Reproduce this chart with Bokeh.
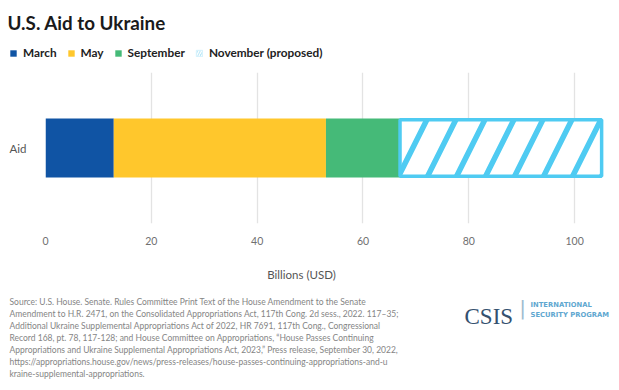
from bokeh.plotting import figure
from bokeh.layouts import column
from bokeh.models import (ColumnDataSource, FactorRange, Range1d, FixedTicker, Label,
                          Legend, LegendItem)
from bokeh.embed import file_html
from bokeh.resources import INLINE

# ---- data ----
categories = ["Aid"]
series = ["March", "May", "September", "November (proposed)"]
march = [12.9]
may = [40.1]
september = [14.0]
november = [38.1]
x_ticks = [0, 20, 40, 60, 80, 100]
colors = ["#1054A4", "#FFC72C", "#45BA78", "#4FCBF2"]

title_text = "U.S. Aid to Ukraine"
axis_title = "Billions (USD)"
source_lines = [
    "Source: U.S. House. Senate. Rules Committee Print Text of the House Amendment to the Senate",
    "Amendment to H.R. 2471, on the Consolidated Appropriations Act, 117th Cong. 2d sess., 2022. 117\u201335;",
    "Additional Ukraine Supplemental Appropriations Act of 2022, HR 7691, 117th Cong., Congressional",
    "Record 168, pt. 78, 117-128; and House Committee on Appropriations, \u201cHouse Passes Continuing",
    "Appropriations and Ukraine Supplemental Appropriations Act, 2023,\u201d Press release, September 30, 2022,",
    "https://appropriations.house.gov/news/press-releases/house-passes-continuing-appropriations-and-u",
    "kraine-supplemental-appropriations.",
]
logo_name = "CSIS"
logo_sub = ["INTERNATIONAL", "SECURITY PROGRAM"]

# cumulative stacking
vals = [march, may, september, november]
lefts, rights = [], []
acc = [0.0] * len(categories)
for v in vals:
    lefts.append(list(acc))
    acc = [a + b for a, b in zip(acc, v)]
    rights.append(list(acc))

FONT = "Lato"
W = 619
H_HEAD, H_CHART, H_FOOT = 72, 176, 142


def bar_style(i):
    if i < 3:
        return dict(fill_color=colors[i], line_color=None)
    return dict(fill_color="white", line_color=colors[i], line_width=3.5,
                hatch_pattern="/", hatch_color=colors[i], hatch_weight=5.5,
                hatch_scale=58)


def legend_style(i):
    if i < 3:
        return dict(fill_color=colors[i], line_color=None)
    return dict(fill_color="#BDE9F9", line_color="#D6F2FC", line_width=1,
                hatch_pattern="/", hatch_color="white", hatch_weight=1.2,
                hatch_scale=5)


def blank(h):
    f = figure(width=W, height=h, output_backend="svg", toolbar_location=None,
               x_range=Range1d(0, W), y_range=Range1d(h, 0),
               x_axis_location=None, y_axis_location=None, min_border=0,
               frame_align=False)
    f.outline_line_color = None
    f.grid.grid_line_color = None
    return f


# ---- header: title + legend ----
head = blank(H_HEAD)
head.add_layout(Label(x=7, y=22, text=title_text, text_font=FONT, text_font_style="bold",
                      text_font_size="18.8px", text_color="#1a1a1a",
                      text_baseline="alphabetic"))
proxies = []
nan = float("nan")
for i, name in enumerate(series):
    r = head.hbar(y=[nan], left=[nan], right=[nan], height=1, **legend_style(i))
    proxies.append(r)
legend = Legend(items=[LegendItem(label=s, renderers=[r]) for s, r in zip(series, proxies)],
                orientation="horizontal", location=(9, H_HEAD - 60),
                glyph_width=8, glyph_height=8, label_standoff=6, spacing=10,
                padding=0, margin=0, border_line_color=None,
                background_fill_alpha=0, label_text_font=FONT,
                label_text_font_style="bold", label_text_font_size="11.8px",
                label_text_color="#222222", label_height=12)
head.add_layout(legend, "center")

# ---- chart ----
p = figure(width=W, height=H_CHART, output_backend="svg", toolbar_location=None,
           y_range=FactorRange(*categories, range_padding=0),
           x_range=Range1d(0, 106.4), frame_align=False,
           min_border_left=45, min_border_right=11, min_border_top=0,
           min_border_bottom=25)
p.outline_line_color = None

for i, name in enumerate(series):
    src = ColumnDataSource(dict(y=categories, left=lefts[i], right=rights[i]))
    h = 0.39 if i < 3 else 0.375
    p.hbar(y="y", left="left", right="right", height=h, source=src, **bar_style(i))

p.xaxis.ticker = FixedTicker(ticks=x_ticks)
p.xaxis.axis_line_color = None
p.xaxis.major_tick_line_color = None
p.xaxis.minor_tick_line_color = None
p.xaxis.major_label_standoff = 7
p.xaxis.major_label_text_font = FONT
p.xaxis.major_label_text_font_size = "10.5px"
p.xaxis.major_label_text_color = "#707070"

p.yaxis.axis_line_color = None
p.yaxis.major_tick_line_color = None
p.yaxis.minor_tick_line_color = None
p.yaxis.major_label_standoff = 13
p.yaxis.major_label_text_font = FONT
p.yaxis.major_label_text_font_size = "11.5px"
p.yaxis.major_label_text_color = "#555555"

p.xgrid.grid_line_color = "#E3E3E3"
p.xgrid.grid_line_width = 1.3
p.ygrid.grid_line_color = None

# ---- footer: axis title, source, logo ----
foot = blank(H_FOOT)
Y0 = H_HEAD + H_CHART  # page y of footer top
foot.add_layout(Label(x=301, y=274 - Y0, text=axis_title, text_font=FONT,
                      text_font_size="11.5px", text_color="#555555",
                      text_align="center", text_baseline="alphabetic"))
for k, line in enumerate(source_lines):
    foot.add_layout(Label(x=9, y=301.5 + 12.0 * k - Y0, text=line, text_font=FONT,
                          text_font_size="8.5px", text_color="#858585",
                          text_baseline="alphabetic"))
foot.add_layout(Label(x=464, y=315.5 - Y0, text=logo_name, text_font="Liberation Serif",
                      text_font_size="23px", text_color="#34516f",
                      text_baseline="alphabetic"))
foot.add_layout(Label(x=522, y=307 - Y0, text="|", text_font="DejaVu Sans",
                      text_font_size="20px", text_color="#9dbcd0",
                      text_align="center", text_baseline="middle"))
for k, t in enumerate(logo_sub):
    foot.add_layout(Label(x=530, y=304.5 + 10 * k - Y0, text=t, text_font="DejaVu Sans",
                          text_font_style="bold", text_font_size="6.8px",
                          text_color="#5fa7d0", text_baseline="alphabetic"))

layout = column(head, p, foot, spacing=0)
open("out.html", "w").write(file_html(layout, INLINE))
